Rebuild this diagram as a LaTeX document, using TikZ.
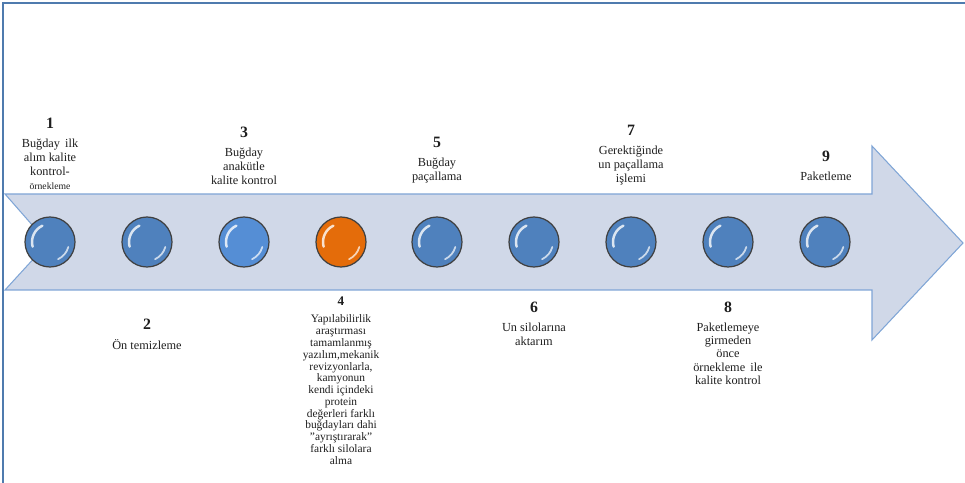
\documentclass[tikz,border=0pt]{standalone}
\usepackage{fontspec}
\setmainfont{Liberation Serif}
\usetikzlibrary{positioning}
\definecolor{FrameBlue}{HTML}{4F7BAE}
\definecolor{ArrowFill}{HTML}{D0D8E8}
\definecolor{ArrowLine}{HTML}{7FA5D6}
\definecolor{BallBlue}{HTML}{4F81BD}
\definecolor{BallLight}{HTML}{558ED5}
\definecolor{BallOrange}{HTML}{E46C0A}
\definecolor{TextDark}{HTML}{1E1E1E}

\tikzset{
  ball/.style={circle,draw=black!75,line width=0.7pt,minimum size=1cm,inner sep=0pt},
  stepnum/.style={font=\bfseries\fontsize{9}{10}\selectfont,text=TextDark,inner sep=0pt},
  steptext/.style={font=\fontsize{7}{8}\selectfont,text=TextDark,align=center,inner sep=0pt},
}

\begin{document}
\begin{tikzpicture}[x=0.02cm,y=-0.02cm]
  \useasboundingbox (0,0) rectangle (965,483);
  % frame
  \draw[FrameBlue,line width=0.8pt](3,483)--(3,3)--(965,3);
  % arrow
  \draw[ArrowLine,fill=ArrowFill,line width=0.6pt]
    (5,194)--(872,194)--(872,146)--(963,243)--(872,340)--(872,290)--(5,290)--(48,243)--cycle;
  % balls
  \foreach \i/\x/\col in {1/50/BallBlue,2/147/BallBlue,3/244/BallLight,
      4/341/BallOrange,5/437/BallBlue,6/534/BallBlue,7/631/BallBlue,
      8/728/BallBlue,9/825/BallBlue}{
    \node[ball,fill=\col](b\i)at(\x,242){};
    \draw[white,opacity=0.8,line width=1.4pt,line cap=round]
      ([shift={(115:0.36cm)}]b\i.center) arc[start angle=115,end angle=195,radius=0.36cm];
    \draw[white,opacity=0.7,line width=1pt,line cap=round]
      ([shift={(295:0.38cm)}]b\i.center) arc[start angle=295,end angle=345,radius=0.38cm];}
  % upper labels
  \node[stepnum](n1)at(50,123){1};
  \node[steptext,below=0.2cm of n1](t1){Buğday\, ilk\\alım kalite\\kontrol-\\{\fontsize{5.5}{6}\selectfont örnekleme}};
  \node[stepnum](n3)at(244,132){3};
  \node[steptext,below=0.2cm of n3](t3){Buğday\\anakütle\\kalite kontrol};
  \node[stepnum](n5)at(437,142){5};
  \node[steptext,below=0.2cm of n5](t5){Buğday\\paçallama};
  \node[stepnum](n7)at(631,130){7};
  \node[steptext,below=0.2cm of n7](t7){Gerektiğinde\\un paçallama\\işlemi};
  \node[stepnum](n9)at(826,156){9};
  \node[steptext,below=0.2cm of n9](t9){Paketleme};
  % lower labels
  \node[stepnum](n2)at(147,324){2};
  \node[steptext,below=0.2cm of n2](t2){Ön temizleme};
  \node[stepnum,font=\bfseries\fontsize{7.5}{8}\selectfont](n4)at(341,301){4};
  \node[steptext,font=\fontsize{6.5}{6.7}\selectfont,below=0.18cm of n4](t4){Yapılabilirlik\\araştırması\\tamamlanmış\\yazılım,mekanik\\revizyonlarla,\\kamyonun\\kendi içindeki\\protein\\değerleri farklı\\buğdayları dahi\\\symbol{34}ayrıştırarak\symbol{34}\\farklı silolara\\alma};
  \node[stepnum](n6)at(534,307){6};
  \node[steptext,below=0.2cm of n6](t6){Un silolarına\\aktarım};
  \node[stepnum](n8)at(728,307){8};
  \node[steptext,font=\fontsize{7}{7.5}\selectfont,below=0.2cm of n8](t8){Paketlemeye\\girmeden\\önce\\örnekleme\, ile\\kalite kontrol};
\end{tikzpicture}
\end{document}
